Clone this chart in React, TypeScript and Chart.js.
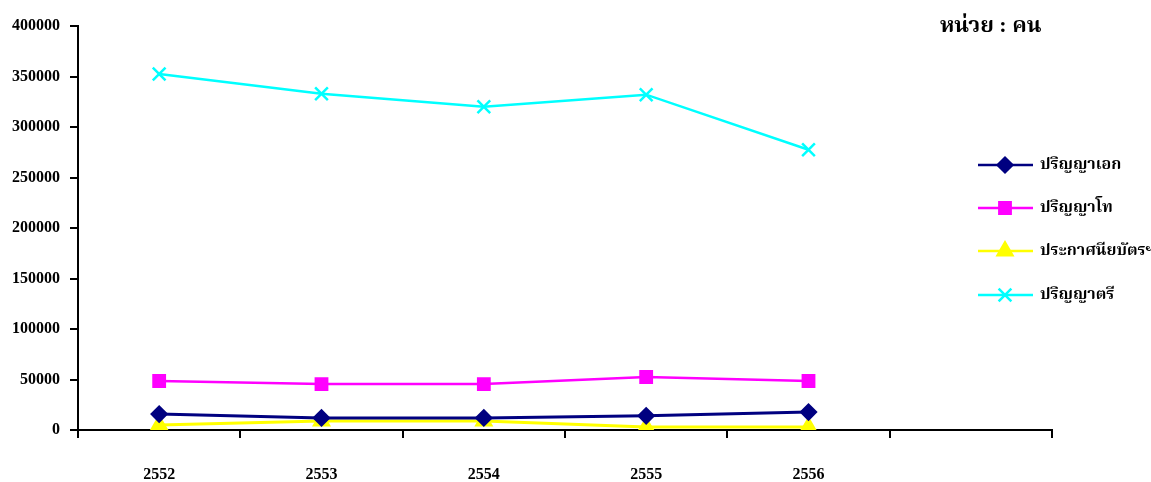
import React, { useEffect, useRef } from "react";
import { Chart, registerables, PointElement } from "chart.js";

Chart.register(...registerables);

const years = ["2552", "2553", "2554", "2555", "2556", ""];
const doctoral = [15800, 12000, 12000, 14000, 17800];
const masters = [48500, 45500, 45500, 52500, 48500];
const certificate = [5000, 9000, 9000, 3000, 3000];
const bachelor = [352500, 333000, 320000, 332000, 277500];
const seriesNames = ["ปริญญาเอก", "ปริญญาโท", "ประกาศนียบัตรฯ", "ปริญญาตรี"];
const unitLabel = "หน่วย : คน";

const FONT = "'Liberation Serif', 'Times New Roman', 'Noto Serif Thai', 'Noto Sans Thai', serif";

const legendPlugin = {
  id: "customLegend",
  afterDraw(chart: any) {
    const ctx = chart.ctx;
    ctx.save();
    ctx.fillStyle = "#000";
    ctx.font = `bold 22px ${FONT}`;
    ctx.textBaseline = "middle";
    ctx.textAlign = "left";
    ctx.fillText(unitLabel, 940, 26);
    const rows = [165, 208, 251, 295];
    chart.data.datasets.forEach((ds: any, i: number) => {
      const y = rows[i];
      ctx.save();
      ctx.strokeStyle = ds.borderColor;
      ctx.lineWidth = 2.5;
      ctx.beginPath();
      ctx.moveTo(978, y);
      ctx.lineTo(1033, y);
      ctx.stroke();
      ctx.restore();
      const pt: any = new (PointElement as any)({
        x: 1005,
        y,
        options: {
          pointStyle: ds.pointStyle,
          radius: ds.pointRadius,
          borderWidth: ds.pointBorderWidth ?? ds.borderWidth,
          rotation: 0,
          backgroundColor: ds.backgroundColor,
          borderColor: ds.borderColor,
        },
      });
      pt.draw(ctx);
      ctx.fillStyle = "#000";
      ctx.font = `bold 16px ${FONT}`;
      ctx.textBaseline = "middle";
      ctx.textAlign = "left";
      ctx.fillText(ds.label, 1040, y);
    });
    ctx.restore();
  },
};

export default function App() {
  const ref = useRef<HTMLCanvasElement>(null);
  useEffect(() => {
    const canvas = ref.current!;
    const chart = new Chart(canvas, {
      type: "line",
      data: {
        labels: years,
        datasets: [
          {
            label: seriesNames[0],
            data: doctoral,
            borderColor: "#000080",
            backgroundColor: "#000080",
            pointStyle: "rectRot",
            pointRadius: 7,
            borderWidth: 3,
          },
          {
            label: seriesNames[1],
            data: masters,
            borderColor: "#FF00FF",
            backgroundColor: "#FF00FF",
            pointStyle: "rect",
            pointRadius: 8,
            borderWidth: 2.5,
          },
          {
            label: seriesNames[2],
            data: certificate,
            borderColor: "#FFFF00",
            backgroundColor: "#FFFF00",
            pointStyle: "triangle",
            pointRadius: 8,
            borderWidth: 3,
          },
          {
            label: seriesNames[3],
            data: bachelor,
            borderColor: "#00FFFF",
            backgroundColor: "#00FFFF",
            pointStyle: "crossRot",
            pointRadius: 9,
            borderWidth: 2.5,
            pointBorderWidth: 2.5,
          },
        ] as any,
      },
      options: {
        animation: false,
        responsive: false,
        maintainAspectRatio: false,
        layout: { padding: { left: 0, right: 99, top: 26, bottom: 0 } },
        plugins: { legend: { display: false }, tooltip: { enabled: false } },
        elements: { line: { tension: 0 } },
        scales: {
          x: {
            type: "category",
            offset: true,
            grid: {
              offset: true,
              drawOnChartArea: false,
              drawTicks: true,
              tickLength: 8,
              color: "#000",
              lineWidth: 2,
            },
            border: { display: true, color: "#000", width: 2 },
            ticks: {
              color: "#000",
              font: { family: FONT, size: 16, weight: "bold" },
              padding: 27,
              maxRotation: 0,
            },
            afterFit: (s: any) => {
              s.height = 52;
            },
          },
          y: {
            min: 0,
            max: 400000,
            grid: {
              drawOnChartArea: false,
              drawTicks: true,
              tickLength: 8,
              color: "#000",
              lineWidth: 2,
            },
            border: { display: true, color: "#000", width: 2 },
            ticks: {
              stepSize: 50000,
              color: "#000",
              padding: 10,
              font: { family: FONT, size: 16, weight: "bold" },
              callback: (v: any) => String(v),
            },
            afterFit: (s: any) => {
              s.width = 78;
            },
          },
        },
      } as any,
      plugins: [legendPlugin],
    });
    return () => chart.destroy();
  }, []);
  return (
    <div style={{ position: "absolute", left: 0, top: 0, width: 1151, height: 482, background: "#fff" }}>
      <canvas ref={ref} width={1151} height={482} style={{ width: 1151, height: 482 }} />
    </div>
  );
}
